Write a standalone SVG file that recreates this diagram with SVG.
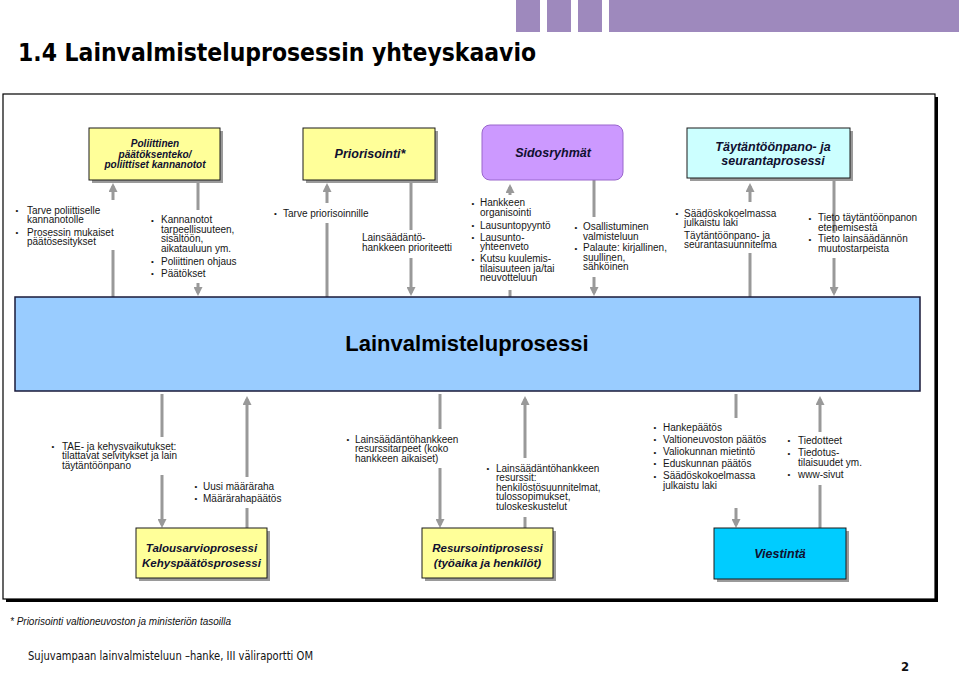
<svg xmlns="http://www.w3.org/2000/svg" width="959" height="674" viewBox="0 0 959 674">
<style>
.t{font-family:"Liberation Sans",Arial,sans-serif;font-size:10px;fill:#161616}
.b{font-family:"Liberation Sans",Arial,sans-serif;font-size:8px;fill:#161616}
.bt{font-family:"Liberation Sans",Arial,sans-serif;font-weight:bold;font-style:italic;fill:#101030;text-anchor:middle}
.sh{fill:#9a9a9a}
.box{stroke:#1a1a1a;stroke-width:1}
.ar{stroke:#999999;stroke-width:3;fill:none}
.ah{stroke:#999999;stroke-width:3;fill:none;marker-end:url(#head)}
.bar{fill:#9e89bd}
</style>
<defs>
<marker id="head" markerUnits="userSpaceOnUse" viewBox="0 0 9 9" markerWidth="9" markerHeight="9" refX="6" refY="4.5" orient="auto">
<path d="M0,0 L9,4.5 L0,9 z" fill="#999999"/>
</marker>
</defs>
<rect width="959" height="674" fill="#ffffff"/>
<g id="header">
<rect class="bar" x="516" y="0" width="24" height="32"/>
<rect class="bar" x="547" y="0" width="24" height="32"/>
<rect class="bar" x="578" y="0" width="24" height="32"/>
<rect class="bar" x="609" y="0" width="350" height="32"/>
<text x="18" y="61" font-family="'DejaVu Sans Condensed','DejaVu Sans',sans-serif" font-weight="bold" font-size="24" fill="#000" textLength="518" lengthAdjust="spacingAndGlyphs">1.4 Lainvalmisteluprosessin yhteyskaavio</text>
</g>
<g id="frame">
<rect x="6" y="97" width="932" height="505" fill="#000"/>
<rect x="3" y="94" width="932" height="505" fill="#fff" stroke="#000" stroke-width="1.2"/>
</g>
<g id="connectors">
<line class="ah" x1="113" y1="200" x2="113" y2="186"/>
<line class="ar" x1="113" y1="250" x2="113" y2="297"/>
<line class="ar" x1="198" y1="180" x2="198" y2="210"/>
<line class="ah" x1="198" y1="283" x2="198" y2="293"/>
<line class="ah" x1="327" y1="203" x2="327" y2="186"/>
<line class="ar" x1="327" y1="223" x2="327" y2="297"/>
<line class="ar" x1="411" y1="180" x2="411" y2="230"/>
<line class="ah" x1="411" y1="258" x2="411" y2="293"/>
<line class="ah" x1="510" y1="195" x2="510" y2="187"/>
<line class="ar" x1="510" y1="290" x2="510" y2="297"/>
<line class="ar" x1="594" y1="180" x2="594" y2="217"/>
<line class="ah" x1="594" y1="277" x2="594" y2="293"/>
<line class="ah" x1="750" y1="202" x2="750" y2="186"/>
<line class="ar" x1="750" y1="253" x2="750" y2="297"/>
<line class="ar" x1="834" y1="178" x2="834" y2="233"/>
<line class="ah" x1="834" y1="258" x2="834" y2="293"/>
<line class="ar" x1="162" y1="394" x2="162" y2="437"/>
<line class="ah" x1="162" y1="475" x2="162" y2="525"/>
<line class="ah" x1="247" y1="477" x2="247" y2="399"/>
<line class="ar" x1="247" y1="508" x2="247" y2="528"/>
<line class="ar" x1="440" y1="394" x2="440" y2="429"/>
<line class="ah" x1="440" y1="468" x2="440" y2="525"/>
<line class="ah" x1="525" y1="458" x2="525" y2="399"/>
<line class="ar" x1="525" y1="517" x2="525" y2="528"/>
<line class="ar" x1="736" y1="394" x2="736" y2="418"/>
<line class="ah" x1="736" y1="508" x2="736" y2="525"/>
<line class="ah" x1="820" y1="432" x2="820" y2="399"/>
<line class="ar" x1="820" y1="485" x2="820" y2="528"/>
</g>
<g id="node-poliittinen">
<rect class="sh" x="92" y="131" width="131" height="52"/>
<rect class="box" x="89" y="128" width="131" height="52" fill="#ffff99"/>
<text class="bt" font-size="10"><tspan x="155" y="147">Poliittinen</tspan><tspan x="155" y="157.5">päätöksenteko/</tspan><tspan x="155" y="168">poliittiset kannanotot</tspan></text>
</g>
<g id="node-priorisointi">
<rect class="sh" x="306" y="131" width="132" height="52"/>
<rect class="box" x="303" y="128" width="132" height="52" fill="#ffff99"/>
<text class="bt" font-size="12.5" x="370" y="158">Priorisointi*</text>
</g>
<g id="node-sidosryhmat">
<rect x="482" y="125" width="141" height="55" rx="8" fill="#cc99ff" stroke="#9966cc" stroke-width="1"/>
<text class="bt" font-size="12.5" x="553" y="157">Sidosryhmät</text>
</g>
<g id="node-taytantoonpano">
<rect class="sh" x="690" y="131" width="163" height="50"/>
<rect class="box" x="687" y="128" width="163" height="50" fill="#ccffff"/>
<text class="bt" font-size="12.5"><tspan x="773" y="151">Täytäntöönpano- ja</tspan><tspan x="773" y="165">seurantaprosessi</tspan></text>
</g>
<g id="node-lainvalmisteluprosessi">
<rect x="15" y="297" width="905" height="94" fill="#99ccff" stroke="#1a1a3a" stroke-width="1.5"/>
<text x="467" y="351" font-family="'Liberation Sans',Arial,sans-serif" font-weight="bold" font-size="22" fill="#000" text-anchor="middle">Lainvalmisteluprosessi</text>
</g>
<g id="node-talousarvio">
<rect class="sh" x="139" y="531" width="131" height="50"/>
<rect class="box" x="136" y="528" width="131" height="50" fill="#ffff99"/>
<text class="bt" font-size="11.5"><tspan x="201.5" y="552">Talousarvioprosessi</tspan><tspan x="201.5" y="566.5">Kehyspäätösprosessi</tspan></text>
</g>
<g id="node-resursointi">
<rect class="sh" x="425" y="531" width="131" height="50"/>
<rect class="box" x="422" y="528" width="131" height="50" fill="#ffff99"/>
<text class="bt" font-size="11.5"><tspan x="487.5" y="552">Resursointiprosessi</tspan><tspan x="487.5" y="566.5">(työaika ja henkilöt)</tspan></text>
</g>
<g id="node-viestinta">
<rect class="sh" x="717" y="531" width="132" height="51"/>
<rect class="box" x="714" y="528" width="132" height="51" fill="#00ccff"/>
<text class="bt" font-size="12.5" x="780" y="557.5">Viestintä</text>
</g>
<g id="labels-top">
<text class="b" x="15.5" y="213">•</text><text class="t" x="27" y="213.5">Tarve poliittiselle</text>
<text class="t" x="27" y="223">kannanotolle</text>
<text class="b" x="15.5" y="235">•</text><text class="t" x="27" y="235.5">Prosessin mukaiset</text>
<text class="t" x="27" y="245">päätösesitykset</text>

<text class="b" x="151" y="223">•</text><text class="t" x="161" y="223">Kannanotot</text>
<text class="t" x="161" y="232.5">tarpeellisuuteen,</text>
<text class="t" x="161" y="242">sisältöön,</text>
<text class="t" x="161" y="251.5">aikatauluun ym.</text>
<text class="b" x="151" y="264">•</text><text class="t" x="161" y="264.5">Poliittinen ohjaus</text>
<text class="b" x="151" y="276">•</text><text class="t" x="161" y="276.5">Päätökset</text>

<text class="b" x="274" y="216">•</text><text class="t" x="283" y="216.5">Tarve priorisoinnille</text>

<text class="t" x="362" y="241">Lainsäädäntö-</text>
<text class="t" x="362" y="250.5">hankkeen prioriteetti</text>

<text class="b" x="471.5" y="206">•</text><text class="t" x="480" y="206">Hankkeen</text>
<text class="t" x="480" y="215.5">organisointi</text>
<text class="b" x="471.5" y="228">•</text><text class="t" x="480" y="228.5">Lausuntopyyntö</text>
<text class="b" x="471.5" y="240">•</text><text class="t" x="480" y="240.5">Lausunto-</text>
<text class="t" x="480" y="250">yhteenveto</text>
<text class="b" x="471.5" y="261.5">•</text><text class="t" x="480" y="262">Kutsu kuulemis-</text>
<text class="t" x="480" y="271.5">tilaisuuteen ja/tai</text>
<text class="t" x="480" y="281">neuvotteluun</text>

<text class="b" x="574.5" y="230">•</text><text class="t" x="583" y="230">Osallistuminen</text>
<text class="t" x="583" y="239.5">valmisteluun</text>
<text class="b" x="574.5" y="250.5">•</text><text class="t" x="583" y="251">Palaute: kirjallinen,</text>
<text class="t" x="583" y="260.5">suullinen,</text>
<text class="t" x="583" y="270">sähköinen</text>

<text class="b" x="675.5" y="216">•</text><text class="t" x="684" y="216.5">Säädöskokoelmassa</text>
<text class="t" x="684" y="226">julkaistu laki</text>
<text class="t" x="684" y="238.5">Täytäntöönpano- ja</text>
<text class="t" x="684" y="248">seurantasuunnitelma</text>

<text class="b" x="808.5" y="221">•</text><text class="t" x="818" y="221">Tieto täytäntöönpanon</text>
<text class="t" x="818" y="230.5">etenemisestä</text>
<text class="b" x="808.5" y="241.5">•</text><text class="t" x="818" y="242">Tieto lainsäädännön</text>
<text class="t" x="818" y="251.5">muutostarpeista</text>
</g>
<g id="labels-bottom">
<text class="b" x="51.5" y="449">•</text><text class="t" x="62" y="449.5">TAE- ja kehysvaikutukset:</text>
<text class="t" x="62" y="459">tilattavat selvitykset ja lain</text>
<text class="t" x="62" y="468.5">täytäntöönpano</text>

<text class="b" x="194.5" y="489">•</text><text class="t" x="203" y="489.5">Uusi määräraha</text>
<text class="b" x="194.5" y="501">•</text><text class="t" x="203" y="501.5">Määrärahapäätös</text>

<text class="b" x="346.5" y="442">•</text><text class="t" x="355" y="442.5">Lainsäädäntöhankkeen</text>
<text class="t" x="355" y="452">resurssitarpeet (koko</text>
<text class="t" x="355" y="461.5">hankkeen aikaiset)</text>

<text class="b" x="486.5" y="471">•</text><text class="t" x="496" y="471.5">Lainsäädäntöhankkeen</text>
<text class="t" x="496" y="481">resurssit:</text>
<text class="t" x="496" y="490.5">henkilöstösuunnitelmat,</text>
<text class="t" x="496" y="500">tulossopimukset,</text>
<text class="t" x="496" y="509.5">tuloskeskustelut</text>

<text class="b" x="653.5" y="430">•</text><text class="t" x="663" y="430.5">Hankepäätös</text>
<text class="b" x="653.5" y="442">•</text><text class="t" x="663" y="442.5">Valtioneuvoston päätös</text>
<text class="b" x="653.5" y="454.5">•</text><text class="t" x="663" y="455">Valiokunnan mietintö</text>
<text class="b" x="653.5" y="466">•</text><text class="t" x="663" y="466.5">Eduskunnan päätös</text>
<text class="b" x="653.5" y="478.5">•</text><text class="t" x="663" y="479">Säädöskokoelmassa</text>
<text class="t" x="663" y="488.5">julkaistu laki</text>

<text class="b" x="787.5" y="443">•</text><text class="t" x="798" y="443.5">Tiedotteet</text>
<text class="b" x="787.5" y="455.5">•</text><text class="t" x="798" y="456">Tiedotus-</text>
<text class="t" x="798" y="465.5">tilaisuudet ym.</text>
<text class="b" x="787.5" y="477">•</text><text class="t" x="798" y="477.5">www-sivut</text>
</g>
<g id="footer">
<text x="10" y="624.5" font-family="'Liberation Sans',Arial,sans-serif" font-style="italic" font-size="10" fill="#111" textLength="221" lengthAdjust="spacingAndGlyphs">* Priorisointi valtioneuvoston ja ministeriön tasoilla</text>
<text x="28" y="660" font-family="'DejaVu Sans Condensed','DejaVu Sans',sans-serif" font-size="12.5" fill="#111" textLength="285" lengthAdjust="spacingAndGlyphs">Sujuvampaan lainvalmisteluun –hanke, III väliraportti OM</text>
<text x="901" y="671" font-family="'DejaVu Sans Condensed','DejaVu Sans',sans-serif" font-weight="bold" font-size="13" fill="#111">2</text>
</g>
</svg>
